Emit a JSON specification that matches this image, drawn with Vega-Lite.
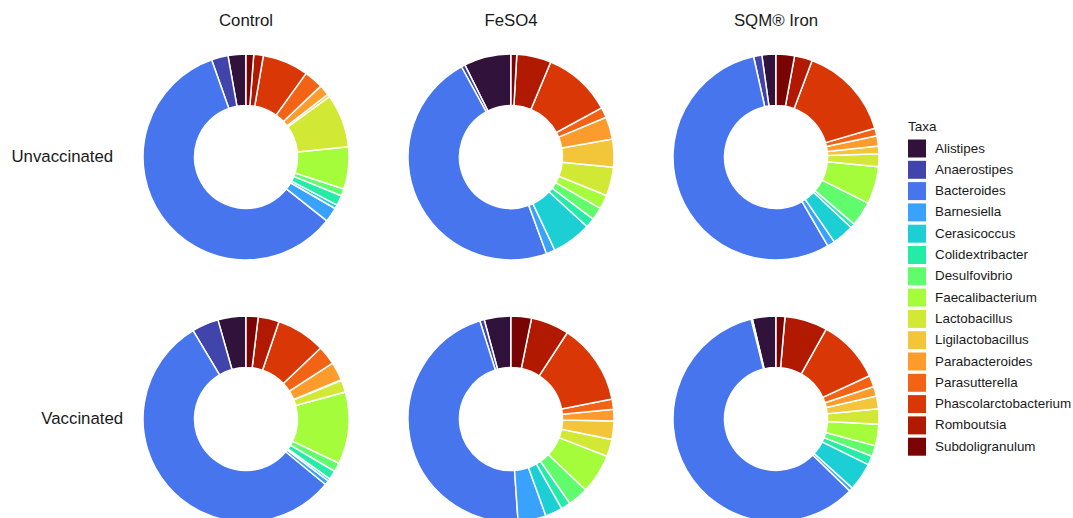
{
  "$schema": "https://vega.github.io/schema/vega-lite/v6.json",
  "background": "white",
  "padding": {"left": 11, "top": 13, "right": 0, "bottom": 0},
  "data": {"values": [
    {"group": "Control", "status": "Unvaccinated", "taxa": "Alistipes", "pct": 2.8},
    {"group": "Control", "status": "Unvaccinated", "taxa": "Anaerostipes", "pct": 2.6},
    {"group": "Control", "status": "Unvaccinated", "taxa": "Bacteroides", "pct": 58.9},
    {"group": "Control", "status": "Unvaccinated", "taxa": "Barnesiella", "pct": 2.3},
    {"group": "Control", "status": "Unvaccinated", "taxa": "Cerasicoccus", "pct": 0.6},
    {"group": "Control", "status": "Unvaccinated", "taxa": "Colidextribacter", "pct": 1.6},
    {"group": "Control", "status": "Unvaccinated", "taxa": "Desulfovibrio", "pct": 1.1},
    {"group": "Control", "status": "Unvaccinated", "taxa": "Faecalibacterium", "pct": 6.6},
    {"group": "Control", "status": "Unvaccinated", "taxa": "Lactobacillus", "pct": 8.4},
    {"group": "Control", "status": "Unvaccinated", "taxa": "Ligilactobacillus", "pct": 0.4},
    {"group": "Control", "status": "Unvaccinated", "taxa": "Parabacteroides", "pct": 1.7},
    {"group": "Control", "status": "Unvaccinated", "taxa": "Parasutterella", "pct": 3.0},
    {"group": "Control", "status": "Unvaccinated", "taxa": "Phascolarctobacterium", "pct": 7.2},
    {"group": "Control", "status": "Unvaccinated", "taxa": "Romboutsia", "pct": 1.5},
    {"group": "Control", "status": "Unvaccinated", "taxa": "Subdoligranulum", "pct": 1.2},

    {"group": "FeSO4", "status": "Unvaccinated", "taxa": "Alistipes", "pct": 7.4},
    {"group": "FeSO4", "status": "Unvaccinated", "taxa": "Anaerostipes", "pct": 0.6},
    {"group": "FeSO4", "status": "Unvaccinated", "taxa": "Bacteroides", "pct": 47.6},
    {"group": "FeSO4", "status": "Unvaccinated", "taxa": "Barnesiella", "pct": 1.4},
    {"group": "FeSO4", "status": "Unvaccinated", "taxa": "Cerasicoccus", "pct": 6.2},
    {"group": "FeSO4", "status": "Unvaccinated", "taxa": "Colidextribacter", "pct": 1.5},
    {"group": "FeSO4", "status": "Unvaccinated", "taxa": "Desulfovibrio", "pct": 2.0},
    {"group": "FeSO4", "status": "Unvaccinated", "taxa": "Faecalibacterium", "pct": 2.2},
    {"group": "FeSO4", "status": "Unvaccinated", "taxa": "Lactobacillus", "pct": 4.5},
    {"group": "FeSO4", "status": "Unvaccinated", "taxa": "Ligilactobacillus", "pct": 4.4},
    {"group": "FeSO4", "status": "Unvaccinated", "taxa": "Parabacteroides", "pct": 3.5},
    {"group": "FeSO4", "status": "Unvaccinated", "taxa": "Parasutterella", "pct": 1.6},
    {"group": "FeSO4", "status": "Unvaccinated", "taxa": "Phascolarctobacterium", "pct": 10.8},
    {"group": "FeSO4", "status": "Unvaccinated", "taxa": "Romboutsia", "pct": 5.4},
    {"group": "FeSO4", "status": "Unvaccinated", "taxa": "Subdoligranulum", "pct": 0.9},

    {"group": "SQM® Iron", "status": "Unvaccinated", "taxa": "Alistipes", "pct": 2.2},
    {"group": "SQM® Iron", "status": "Unvaccinated", "taxa": "Anaerostipes", "pct": 1.3},
    {"group": "SQM® Iron", "status": "Unvaccinated", "taxa": "Bacteroides", "pct": 54.9},
    {"group": "SQM® Iron", "status": "Unvaccinated", "taxa": "Barnesiella", "pct": 1.2},
    {"group": "SQM® Iron", "status": "Unvaccinated", "taxa": "Cerasicoccus", "pct": 3.4},
    {"group": "SQM® Iron", "status": "Unvaccinated", "taxa": "Colidextribacter", "pct": 0.7},
    {"group": "SQM® Iron", "status": "Unvaccinated", "taxa": "Desulfovibrio", "pct": 3.9},
    {"group": "SQM® Iron", "status": "Unvaccinated", "taxa": "Faecalibacterium", "pct": 5.9},
    {"group": "SQM® Iron", "status": "Unvaccinated", "taxa": "Lactobacillus", "pct": 2.0},
    {"group": "SQM® Iron", "status": "Unvaccinated", "taxa": "Ligilactobacillus", "pct": 1.2},
    {"group": "SQM® Iron", "status": "Unvaccinated", "taxa": "Parabacteroides", "pct": 1.6},
    {"group": "SQM® Iron", "status": "Unvaccinated", "taxa": "Parasutterella", "pct": 1.2},
    {"group": "SQM® Iron", "status": "Unvaccinated", "taxa": "Phascolarctobacterium", "pct": 14.8},
    {"group": "SQM® Iron", "status": "Unvaccinated", "taxa": "Romboutsia", "pct": 2.8},
    {"group": "SQM® Iron", "status": "Unvaccinated", "taxa": "Subdoligranulum", "pct": 2.9},

    {"group": "Control", "status": "Vaccinated", "taxa": "Alistipes", "pct": 4.4},
    {"group": "Control", "status": "Vaccinated", "taxa": "Anaerostipes", "pct": 4.2},
    {"group": "Control", "status": "Vaccinated", "taxa": "Bacteroides", "pct": 55.5},
    {"group": "Control", "status": "Vaccinated", "taxa": "Barnesiella", "pct": 0.7},
    {"group": "Control", "status": "Vaccinated", "taxa": "Cerasicoccus", "pct": 0.4},
    {"group": "Control", "status": "Vaccinated", "taxa": "Colidextribacter", "pct": 1.4},
    {"group": "Control", "status": "Vaccinated", "taxa": "Desulfovibrio", "pct": 1.4},
    {"group": "Control", "status": "Vaccinated", "taxa": "Faecalibacterium", "pct": 11.3},
    {"group": "Control", "status": "Vaccinated", "taxa": "Lactobacillus", "pct": 1.9},
    {"group": "Control", "status": "Vaccinated", "taxa": "Ligilactobacillus", "pct": 0.1},
    {"group": "Control", "status": "Vaccinated", "taxa": "Parabacteroides", "pct": 2.9},
    {"group": "Control", "status": "Vaccinated", "taxa": "Parasutterella", "pct": 3.0},
    {"group": "Control", "status": "Vaccinated", "taxa": "Phascolarctobacterium", "pct": 7.7},
    {"group": "Control", "status": "Vaccinated", "taxa": "Romboutsia", "pct": 3.3},
    {"group": "Control", "status": "Vaccinated", "taxa": "Subdoligranulum", "pct": 1.9},

    {"group": "FeSO4", "status": "Vaccinated", "taxa": "Alistipes", "pct": 4.2},
    {"group": "FeSO4", "status": "Vaccinated", "taxa": "Anaerostipes", "pct": 0.7},
    {"group": "FeSO4", "status": "Vaccinated", "taxa": "Bacteroides", "pct": 46.2},
    {"group": "FeSO4", "status": "Vaccinated", "taxa": "Barnesiella", "pct": 4.4},
    {"group": "FeSO4", "status": "Vaccinated", "taxa": "Cerasicoccus", "pct": 2.7},
    {"group": "FeSO4", "status": "Vaccinated", "taxa": "Colidextribacter", "pct": 1.5},
    {"group": "FeSO4", "status": "Vaccinated", "taxa": "Desulfovibrio", "pct": 3.2},
    {"group": "FeSO4", "status": "Vaccinated", "taxa": "Faecalibacterium", "pct": 6.2},
    {"group": "FeSO4", "status": "Vaccinated", "taxa": "Lactobacillus", "pct": 2.7},
    {"group": "FeSO4", "status": "Vaccinated", "taxa": "Ligilactobacillus", "pct": 2.9},
    {"group": "FeSO4", "status": "Vaccinated", "taxa": "Parabacteroides", "pct": 1.8},
    {"group": "FeSO4", "status": "Vaccinated", "taxa": "Parasutterella", "pct": 1.6},
    {"group": "FeSO4", "status": "Vaccinated", "taxa": "Phascolarctobacterium", "pct": 12.7},
    {"group": "FeSO4", "status": "Vaccinated", "taxa": "Romboutsia", "pct": 6.0},
    {"group": "FeSO4", "status": "Vaccinated", "taxa": "Subdoligranulum", "pct": 3.2},

    {"group": "SQM® Iron", "status": "Vaccinated", "taxa": "Alistipes", "pct": 3.7},
    {"group": "SQM® Iron", "status": "Vaccinated", "taxa": "Anaerostipes", "pct": 0.2},
    {"group": "SQM® Iron", "status": "Vaccinated", "taxa": "Bacteroides", "pct": 58.8},
    {"group": "SQM® Iron", "status": "Vaccinated", "taxa": "Barnesiella", "pct": 0.6},
    {"group": "SQM® Iron", "status": "Vaccinated", "taxa": "Cerasicoccus", "pct": 4.4},
    {"group": "SQM® Iron", "status": "Vaccinated", "taxa": "Colidextribacter", "pct": 1.4},
    {"group": "SQM® Iron", "status": "Vaccinated", "taxa": "Desulfovibrio", "pct": 1.7},
    {"group": "SQM® Iron", "status": "Vaccinated", "taxa": "Faecalibacterium", "pct": 3.4},
    {"group": "SQM® Iron", "status": "Vaccinated", "taxa": "Lactobacillus", "pct": 2.4},
    {"group": "SQM® Iron", "status": "Vaccinated", "taxa": "Ligilactobacillus", "pct": 2.0},
    {"group": "SQM® Iron", "status": "Vaccinated", "taxa": "Parabacteroides", "pct": 1.5},
    {"group": "SQM® Iron", "status": "Vaccinated", "taxa": "Parasutterella", "pct": 1.8},
    {"group": "SQM® Iron", "status": "Vaccinated", "taxa": "Phascolarctobacterium", "pct": 10.0},
    {"group": "SQM® Iron", "status": "Vaccinated", "taxa": "Romboutsia", "pct": 6.7},
    {"group": "SQM® Iron", "status": "Vaccinated", "taxa": "Subdoligranulum", "pct": 1.4}
  ]},
  "facet": {
    "column": {
      "field": "group", "type": "nominal",
      "sort": ["Control", "FeSO4", "SQM® Iron"],
      "header": {"title": null, "labelFont": "Liberation Sans", "labelFontSize": 16.8, "labelColor": "#1a1a1a", "labelPadding": 23}
    },
    "row": {
      "field": "status", "type": "nominal",
      "sort": ["Unvaccinated", "Vaccinated"],
      "header": {"title": null, "labelAngle": 0, "labelAlign": "center", "labelFont": "Liberation Sans", "labelFontSize": 16.8, "labelColor": "#1a1a1a", "labelPadding": -22}
    }
  },
  "spacing": {"row": 54, "column": 57},
  "spec": {
    "width": 206,
    "height": 206,
    "mark": {"type": "arc", "outerRadius": 103, "innerRadius": 51.5, "stroke": "white", "strokeWidth": 1.5, "strokeJoin": "round"},
    "encoding": {
      "theta": {"field": "pct", "type": "quantitative", "stack": true},
      "order": {"field": "taxa", "sort": "descending"},
      "color": {
        "field": "taxa", "type": "nominal", "title": "Taxa",
        "scale": {
          "domain": ["Alistipes", "Anaerostipes", "Bacteroides", "Barnesiella", "Cerasicoccus", "Colidextribacter", "Desulfovibrio", "Faecalibacterium", "Lactobacillus", "Ligilactobacillus", "Parabacteroides", "Parasutterella", "Phascolarctobacterium", "Romboutsia", "Subdoligranulum"],
          "range": ["#30123b", "#4145ab", "#4675ed", "#39a2fc", "#1bcfd4", "#24eca6", "#61fc6c", "#a4fc3b", "#d1e834", "#f3c63a", "#fe9b2d", "#f36315", "#d93806", "#b11901", "#7a0403"]
        },
        "legend": {
          "orient": "none", "legendX": 765, "legendY": 66,
          "symbolType": "square", "symbolSize": 324, "symbolStrokeWidth": 0, "symbolOpacity": 1,
          "rowPadding": 3.3, "labelOffset": 9,
          "titleFont": "Liberation Sans", "titleFontSize": 13.5, "titleFontWeight": "normal", "titleColor": "#1a1a1a", "titlePadding": 6,
          "labelFont": "Liberation Sans", "labelFontSize": 13.4, "labelColor": "#1a1a1a", "labelLimit": 300
        }
      }
    }
  },
  "config": {"view": {"stroke": null}}
}
